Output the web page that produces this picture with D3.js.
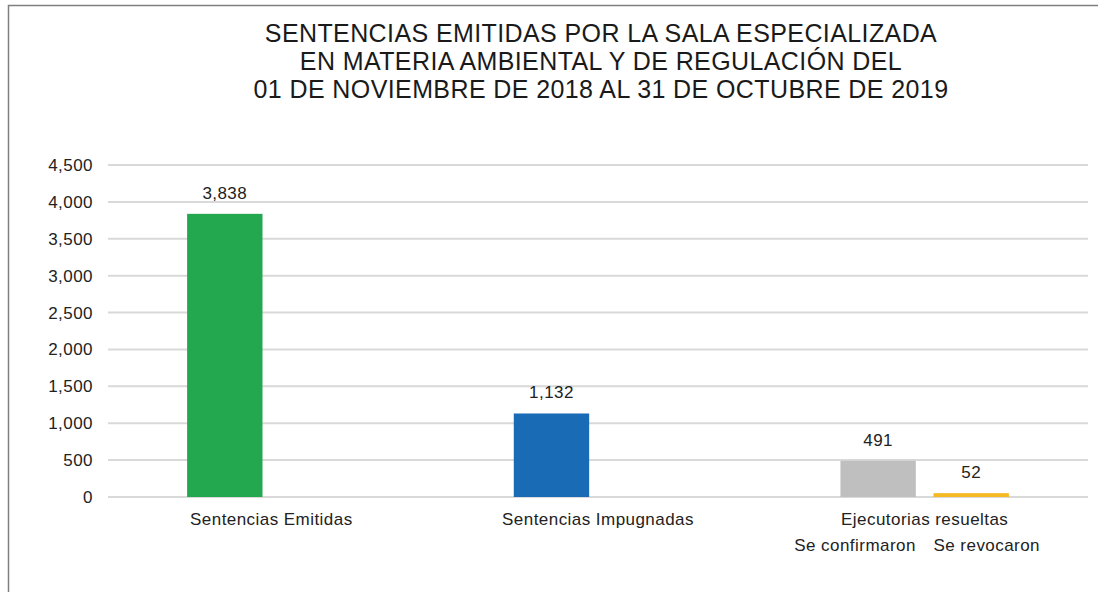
<!DOCTYPE html>
<html>
<head>
<meta charset="utf-8">
<script src="https://cdn.jsdelivr.net/npm/d3@7"></script>
<style>
  body { margin: 0; background: #fff; }
  svg { display: block; font-family: "Liberation Sans", Arial, sans-serif; }
</style>
</head>
<body>
<div id="vis"></div>
<script>
// data
var categories = ['Sentencias Emitidas', 'Sentencias Impugnadas', 'Ejecutorias resueltas'];
var mainValues = [3838, 1132, 491];      // first bar of each group
var revocaronValues = [null, null, 52];  // second bar, only in last group
var subLabels = ['Se confirmaron', 'Se revocaron'];
var titleLines = [
  'SENTENCIAS EMITIDAS POR LA SALA ESPECIALIZADA',
  'EN MATERIA AMBIENTAL Y DE REGULACIÓN DEL',
  '01 DE NOVIEMBRE DE 2018 AL 31 DE OCTUBRE DE 2019'
];
var yTicks = [0, 500, 1000, 1500, 2000, 2500, 3000, 3500, 4000, 4500];

var mainColors = ['#24a84f', '#1a6bb5', '#bfbfbf'];
var revColor = '#f5b921';

var width = 1098;
var height = 592;
var fontSize = 17;
var spacing = 0.45;

var svg = d3.select('#vis').append('svg')
  .attr('width', width)
  .attr('height', height);

// frame (only left and top edges show)
svg.append('path')
  .attr('d', 'M8.5,' + height + 'V5.5H' + width)
  .attr('fill', 'none')
  .attr('stroke', '#7f7f7f')
  .attr('stroke-width', 1.5);

// title
svg.append('g').selectAll('text')
  .data(titleLines)
  .enter().append('text')
  .attr('x', 601)
  .attr('y', function (d, i) { return 42 + i * 28; })
  .attr('text-anchor', 'middle')
  .attr('font-size', 25)
  .attr('letter-spacing', 0.4)
  .attr('fill', '#1a1a1a')
  .text(function (d) { return d; });

var x0 = d3.scaleBand()
  .domain(categories)
  .range([108, 1088])
  .padding(0);

var x1 = d3.scaleBand()
  .domain(['main', 'rev'])
  .range([0, x0.bandwidth()])
  .paddingInner(0.19)
  .paddingOuter(0.85);

var y = d3.scaleLinear()
  .domain([0, 4500])
  .range([497, 165]);

// gridlines
svg.append('g').selectAll('line')
  .data(yTicks)
  .enter().append('line')
  .attr('x1', 108)
  .attr('x2', 1088)
  .attr('y1', function (d) { return y(d); })
  .attr('y2', function (d) { return y(d); })
  .attr('stroke', '#d9d9d9')
  .attr('stroke-width', 2);

// y axis labels
var yAxis = d3.axisLeft(y)
  .tickValues(yTicks)
  .tickFormat(d3.format(','))
  .tickSize(0)
  .tickPadding(0);

var gy = svg.append('g')
  .attr('transform', 'translate(93,0)')
  .call(yAxis);
gy.select('.domain').remove();
gy.selectAll('text')
  .attr('font-size', fontSize)
  .attr('letter-spacing', spacing)
  .attr('fill', '#222')
  .attr('font-family', '"Liberation Sans", Arial, sans-serif');

// bars
var rows = categories.map(function (c, i) {
  return { cat: c, i: i, main: mainValues[i], rev: revocaronValues[i] };
});

var groups = svg.append('g').selectAll('g')
  .data(rows)
  .enter().append('g')
  .attr('transform', function (d) { return 'translate(' + x0(d.cat) + ',0)'; });

groups.append('rect')
  .attr('x', x1('main'))
  .attr('width', x1.bandwidth())
  .attr('y', function (d) { return y(d.main); })
  .attr('height', function (d) { return y(0) - y(d.main); })
  .attr('fill', function (d) { return mainColors[d.i]; });

groups.append('text')
  .attr('x', x1('main') + x1.bandwidth() / 2)
  .attr('y', function (d) { return y(d.main) - 15; })
  .attr('text-anchor', 'middle')
  .attr('font-size', fontSize)
  .attr('letter-spacing', spacing)
  .attr('fill', '#222')
  .text(function (d) { return d3.format(',')(d.main); });

var revGroups = groups.filter(function (d) { return d.rev != null; });

revGroups.append('rect')
  .attr('x', x1('rev'))
  .attr('width', x1.bandwidth())
  .attr('y', function (d) { return y(d.rev); })
  .attr('height', function (d) { return y(0) - y(d.rev); })
  .attr('fill', revColor);

revGroups.append('text')
  .attr('x', x1('rev') + x1.bandwidth() / 2)
  .attr('y', function (d) { return y(d.rev) - 15; })
  .attr('text-anchor', 'middle')
  .attr('font-size', fontSize)
  .attr('letter-spacing', spacing)
  .attr('fill', '#222')
  .text(function (d) { return d3.format(',')(d.rev); });

// category labels
groups.append('text')
  .attr('x', x0.bandwidth() / 2)
  .attr('y', 525)
  .attr('text-anchor', 'middle')
  .attr('font-size', fontSize)
  .attr('letter-spacing', spacing)
  .attr('fill', '#222')
  .text(function (d) { return d.cat; });

// sub labels under the last group
revGroups.append('text')
  .attr('x', x1('main') + x1.bandwidth())
  .attr('y', 551)
  .attr('text-anchor', 'end')
  .attr('font-size', fontSize)
  .attr('letter-spacing', spacing)
  .attr('fill', '#222')
  .text(subLabels[0]);

revGroups.append('text')
  .attr('x', x1('rev'))
  .attr('y', 551)
  .attr('text-anchor', 'start')
  .attr('font-size', fontSize)
  .attr('letter-spacing', spacing)
  .attr('fill', '#222')
  .text(subLabels[1]);
</script>
</body>
</html>
